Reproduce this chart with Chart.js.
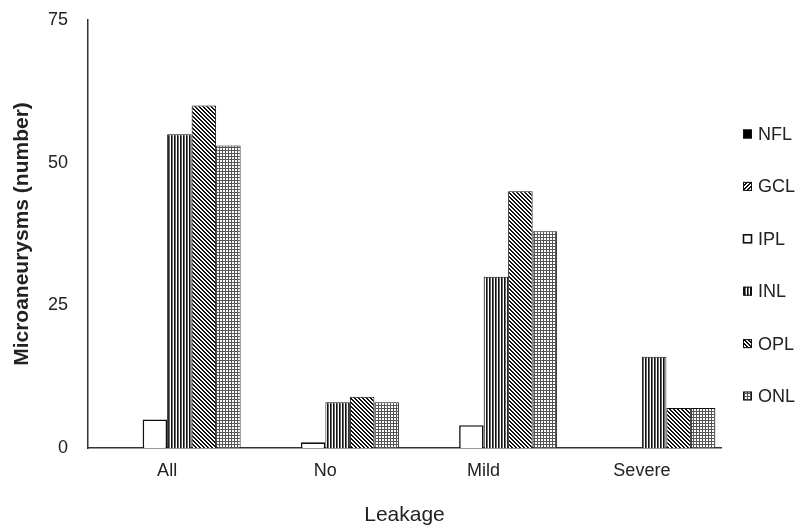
<!DOCTYPE html>
<html lang="en">
<head>
    <meta charset="UTF-8">
    <title>Microaneurysms by leakage</title>
    <script src="https://cdn.jsdelivr.net/npm/chart.js"></script>
    <style>
        body {
            margin: 0;
            background-color: white;
        }
        canvas {
            display: block;
        }
    </style>
</head>
<body>
    <canvas id="chart" width="798" height="532"></canvas>

    <script>
        // data
        const categories = ['All', 'No', 'Mild', 'Severe'];
        const layers = ['NFL', 'GCL', 'IPL', 'INL', 'OPL', 'ONL'];
        const nflValues = [0, 0, 0, 0];
        const gclValues = [0, 0, 0, 0];
        const iplValues = [5, 1, 4, 0];
        const inlValues = [55, 8, 30, 16];
        const oplValues = [60, 9, 45, 7];
        const onlValues = [53, 8, 38, 7];
        const yTicks = [0, 25, 50, 75];

        const FONT = "'Liberation Sans', Arial, sans-serif";

        // small canvas tiles used as hatch fills
        function makePattern(size, painter) {
            const c = document.createElement('canvas');
            c.width = size;
            c.height = size;
            const g = c.getContext('2d');
            g.fillStyle = '#fff';
            g.fillRect(0, 0, size, size);
            painter(g, size);
            return g.createPattern(c, 'repeat');
        }

        const ctx = document.getElementById('chart').getContext('2d');

        const fills = {
            NFL: '#000',
            GCL: makePattern(4, (g, s) => {
                g.fillStyle = '#111';
                for (let y = 0; y < s; y++) for (let x = 0; x < s; x++) {
                    if ((x + y) % 4 < 2) g.fillRect(x, y, 1, 1);
                }
            }),
            IPL: '#fff',
            INL: makePattern(3, (g, s) => {
                g.fillStyle = '#111';
                g.fillRect(0, 0, 1, s);
                g.fillStyle = '#6a6a6a';
                g.fillRect(1, 0, 1, s);
            }),
            OPL: makePattern(4, (g, s) => {
                g.fillStyle = '#111';
                for (let y = 0; y < s; y++) for (let x = 0; x < s; x++) {
                    if (((x - y) % 4 + 4) % 4 < 2) g.fillRect(x, y, 1, 1);
                }
            }),
            ONL: makePattern(3, (g, s) => {
                g.fillStyle = '#555';
                g.fillRect(0, 0, s, 1);
                g.fillRect(0, 0, 1, s);
            })
        };

        const seriesValues = [nflValues, gclValues, iplValues, inlValues, oplValues, onlValues];

        const datasets = layers.map((name, i) => ({
            label: name,
            data: seriesValues[i],
            backgroundColor: fills[name],
            borderColor: '#111',
            borderWidth: name === 'IPL' ? 1.6 : 1,
            borderSkipped: 'bottom'
        }));

        // legend drawn by hand so its column sits where the original one does
        const sideLegend = {
            id: 'sideLegend',
            afterDraw(chart) {
                const c = chart.ctx;
                const x = chart.chartArea.right + 22;
                c.save();
                c.font = '18px ' + FONT;
                c.textBaseline = 'middle';
                chart.data.datasets.forEach((ds, i) => {
                    const y = 134 + i * 52.4;
                    c.fillStyle = ds.backgroundColor;
                    c.fillRect(x, y - 4.5, 9, 9);
                    c.strokeStyle = '#111';
                    c.lineWidth = ds.label === 'IPL' ? 1.6 : 1;
                    c.strokeRect(x + 0.5, y - 4, 8, 8);
                    c.fillStyle = '#222';
                    c.fillText(ds.label, x + 15, y + 1);
                });
                c.restore();
            }
        };

        new Chart(ctx, {
            type: 'bar',
            data: {
                labels: categories,
                datasets: datasets
            },
            options: {
                responsive: false,
                animation: false,
                layout: {
                    padding: { top: 20, right: 77, bottom: 0, left: 0 }
                },
                datasets: {
                    bar: {
                        categoryPercentage: 0.929,
                        barPercentage: 1
                    }
                },
                plugins: {
                    legend: { display: false },
                    tooltip: { enabled: false }
                },
                scales: {
                    x: {
                        grid: { display: false, drawTicks: false },
                        border: { display: true, color: '#333', width: 1.5 },
                        ticks: {
                            padding: 12,
                            color: '#222',
                            font: { family: FONT, size: 18 }
                        },
                        title: {
                            display: true,
                            text: 'Leakage',
                            color: '#222',
                            font: { family: FONT, size: 21 },
                            padding: { top: 0, bottom: 4 }
                        },
                        afterFit(scale) {
                            scale.height = 84;
                        }
                    },
                    y: {
                        min: 0,
                        max: 75,
                        afterBuildTicks(scale) {
                            scale.ticks = yTicks.map(v => ({ value: v }));
                        },
                        grid: { display: false, drawTicks: false },
                        border: { display: true, color: '#333', width: 1.5 },
                        ticks: {
                            padding: 20,
                            color: '#222',
                            font: { family: FONT, size: 18 }
                        },
                        title: {
                            display: true,
                            text: 'Microaneurysms (number)',
                            color: '#222',
                            font: { family: FONT, size: 21, weight: 'bold' },
                            padding: { top: 10, bottom: 0 }
                        },
                        afterFit(scale) {
                            scale.width = 88;
                            scale.paddingTop = 0;
                            scale.paddingBottom = 0;
                        }
                    }
                }
            },
            plugins: [sideLegend]
        });
    </script>
</body>
</html>
